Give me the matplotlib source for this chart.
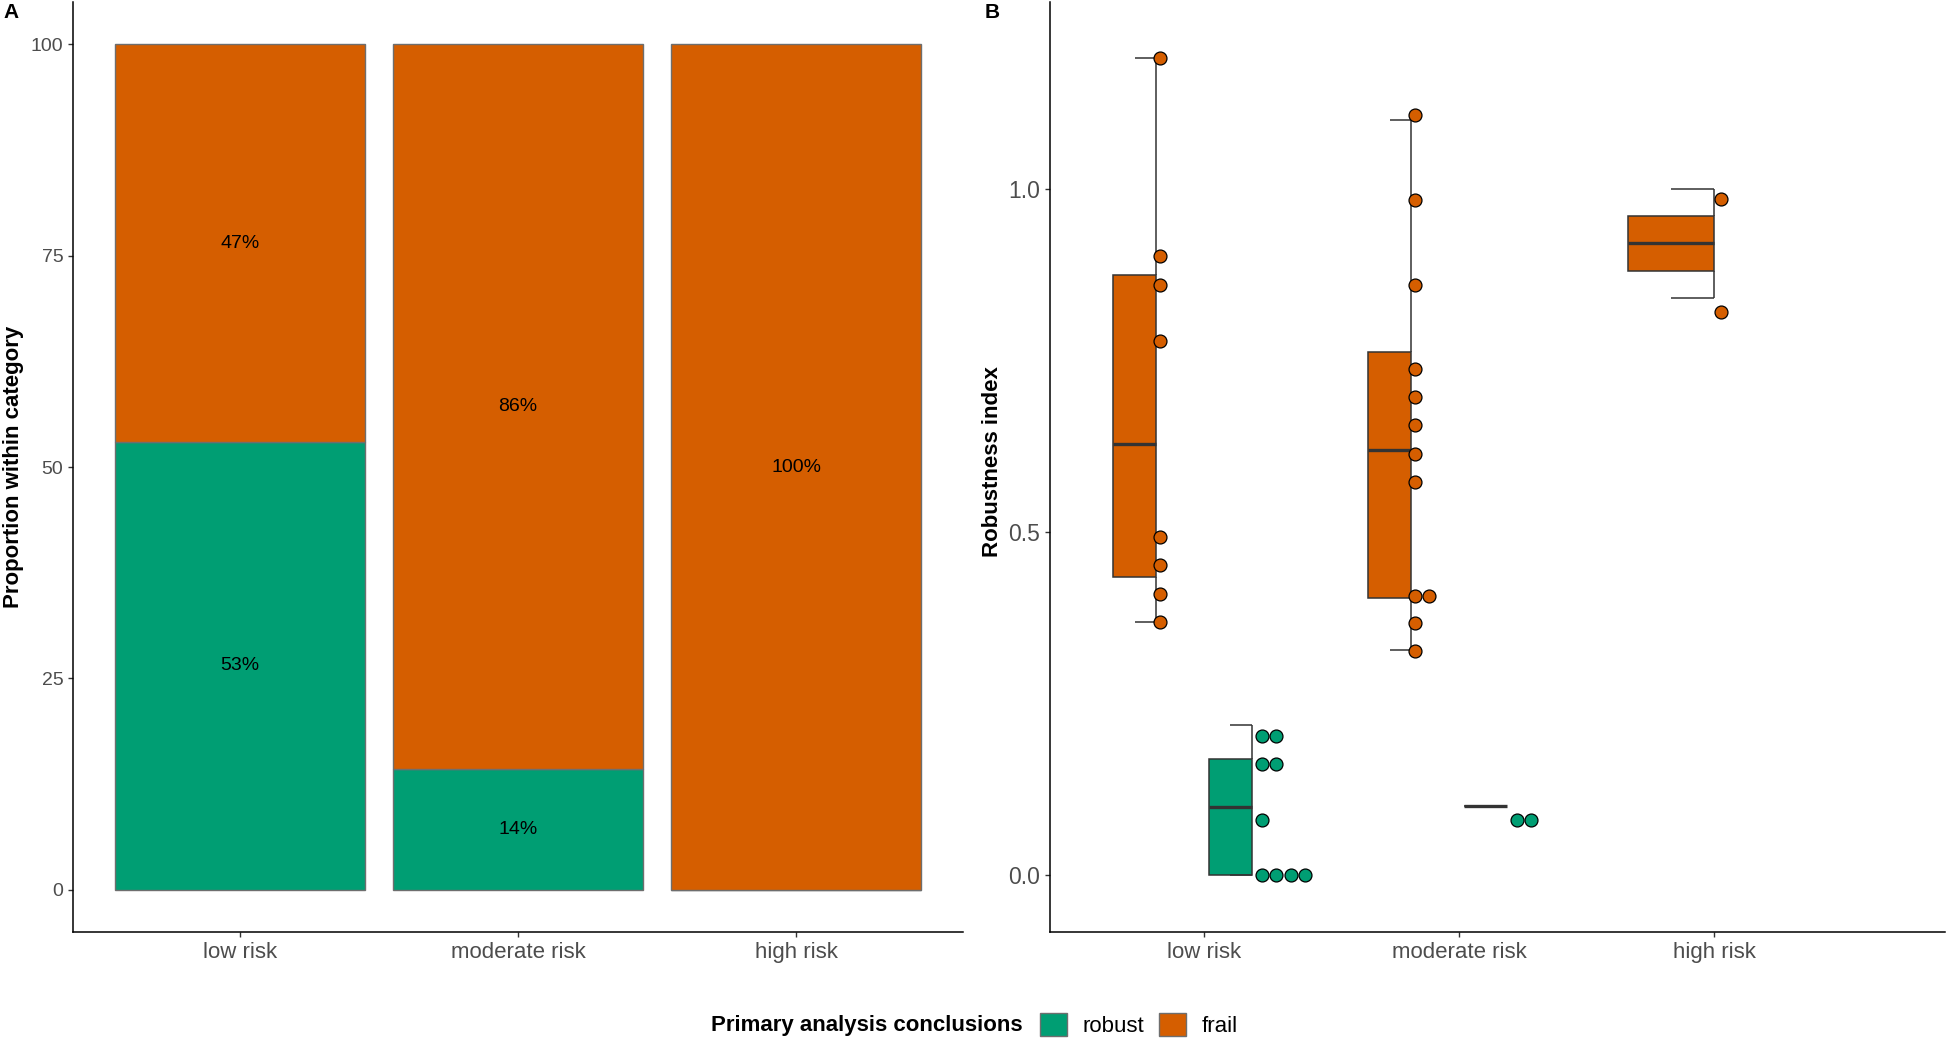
import matplotlib
matplotlib.use("Agg")
import matplotlib.pyplot as plt
from matplotlib.patches import Patch
import numpy as np

plt.rcParams['font.family'] = ['Liberation Sans', 'DejaVu Sans']

# ---------------- data ----------------
categories = ["low risk", "moderate risk", "high risk"]
conclusions = ["robust", "frail"]
robust_counts = [9, 2, 0]
frail_counts = [8, 12, 2]

# Panel B box statistics per category (nan = group absent)
frail_whislo = [0.369, 0.328, 0.840]
frail_q1 = [0.434, 0.404, 0.880]
frail_median = [0.628, 0.619, 0.920]
frail_q3 = [0.874, 0.762, 0.960]
frail_whishi = [1.190, 1.100, 1.000]

robust_whislo = [0.000, 0.100, np.nan]
robust_q1 = [0.000, 0.100, np.nan]
robust_median = [0.099, 0.100, np.nan]
robust_q3 = [0.169, 0.100, np.nan]
robust_whishi = [0.219, 0.100, np.nan]

# Panel B dot positions (binned values as drawn)
frail_dots_low = [0.369, 0.409, 0.451, 0.492, 0.778, 0.860, 0.902, 1.190]
frail_dots_moderate = [0.326, 0.367, 0.407, 0.407, 0.573, 0.614, 0.655,
                       0.696, 0.737, 0.860, 0.984, 1.107]
frail_dots_high = [0.820, 0.985]
robust_dots_low = [0.0, 0.0, 0.0, 0.0, 0.080, 0.162, 0.162, 0.203, 0.203]
robust_dots_moderate = [0.080, 0.080]
robust_dots_high = []

y_ticks_A = [0, 25, 50, 75, 100]
y_ticks_B = [0.0, 0.5, 1.0]

# ---------------- style ----------------
GREEN = "#009E73"
ORANGE = "#D55E00"
BOX_EC = "#333333"
BAR_EC = "#6E6E6E"
TICK_TXT = "#4D4D4D"

W, H = 1946, 1043
fig = plt.figure(figsize=(W / 100, H / 100), dpi=100)

bottom_px, top_px = 932, 2
axA = fig.add_axes([73.3 / W, 1 - bottom_px / H, (963 - 73.3) / W, (bottom_px - top_px) / H])
axB = fig.add_axes([1050 / W, 1 - bottom_px / H, (1945 - 1050) / W, (bottom_px - top_px) / H])

for ax in (axA, axB):
    for s in ("top", "right"):
        ax.spines[s].set_visible(False)
    for s in ("left", "bottom"):
        ax.spines[s].set_linewidth(1.1)
        ax.spines[s].set_color("black")
    ax.tick_params(axis="both", length=3.6, width=1.0, color="#333333",
                   labelcolor=TICK_TXT, pad=3.6)
    ax.tick_params(axis="x", labelsize=16)
axA.tick_params(axis="y", labelsize=14)
axB.tick_params(axis="y", labelsize=16.5)

# ---------------- panel A ----------------
x = np.arange(1, len(categories) + 1)
rc = np.array(robust_counts, dtype=float)
fc = np.array(frail_counts, dtype=float)
pct_r = 100 * rc / (rc + fc)
pct_f = 100 * fc / (rc + fc)

axA.bar(x, pct_r, width=0.9, color=GREEN, edgecolor=BAR_EC, linewidth=1.0)
axA.bar(x, pct_f, bottom=pct_r, width=0.9, color=ORANGE, edgecolor=BAR_EC, linewidth=1.0)
for xi, pr, pf in zip(x, pct_r, pct_f):
    if pr > 0:
        axA.text(xi, pr / 2, f"{round(pr)}%", ha="center", va="center", fontsize=14, color="black")
    if pf > 0:
        axA.text(xi, pr + pf / 2, f"{round(pf)}%", ha="center", va="center", fontsize=14, color="black")

axA.set_xlim(0.4, 3.6)
axA.set_ylim(-5, 105)
axA.set_xticks(x)
axA.set_xticklabels(categories)
axA.set_yticks(y_ticks_A)
axA.set_yticklabels([str(t) for t in y_ticks_A])

# ---------------- panel B ----------------
groups = {
    "frail": dict(color=ORANGE, whislo=frail_whislo, q1=frail_q1, med=frail_median,
                  q3=frail_q3, whishi=frail_whishi,
                  dots=[frail_dots_low, frail_dots_moderate, frail_dots_high],
                  counts=frail_counts),
    "robust": dict(color=GREEN, whislo=robust_whislo, q1=robust_q1, med=robust_median,
                   q3=robust_q3, whishi=robust_whishi,
                   dots=[robust_dots_low, robust_dots_moderate, robust_dots_high],
                   counts=robust_counts),
}
order = ["frail", "robust"]
box_dodge = 0.75
dot_dodge = 0.8
box_frac = 0.45
dot_d = 0.0557  # dot spacing in x units

for i, xc in enumerate(x):
    present = [g for g in order if groups[g]["counts"][i] > 0]
    n = len(present)
    for j, g in enumerate(present):
        G = groups[g]
        slot = box_dodge / n
        cx = xc - box_dodge / 2 + slot * (j + 0.5)
        bw = box_frac * slot
        q1, q3, med = G["q1"][i], G["q3"][i], G["med"][i]
        lo, hi = G["whislo"][i], G["whishi"][i]
        axB.bar(cx, q3 - q1, bottom=q1, width=-bw, align="edge", color=G["color"],
                edgecolor=BOX_EC, linewidth=1.1, zorder=2)
        axB.vlines(cx, lo, q1, color=BOX_EC, lw=1.1, zorder=2)
        axB.vlines(cx, q3, hi, color=BOX_EC, lw=1.1, zorder=2)
        axB.hlines([lo, hi], cx - bw / 2, cx, color=BOX_EC, lw=1.1, zorder=2)
        axB.hlines(med, cx - bw, cx, color=BOX_EC, lw=2.4, zorder=3)

        # dots
        dslot = dot_dodge / n
        dcx = xc - dot_dodge / 2 + dslot * (j + 0.5)
        vals = G["dots"][i]
        seen = {}
        xs, ys = [], []
        for v in vals:
            k = seen.get(v, 0)
            seen[v] = k + 1
            xs.append(dcx + dot_d / 2 + k * dot_d)
            ys.append(v)
        axB.plot(xs, ys, "o", ms=9.3, mfc=G["color"], mec="black", mew=0.9,
                 ls="none", zorder=4, clip_on=False)

axB.set_xlim(0.396, 3.906)
axB.set_ylim(-0.083, 1.2718)
axB.set_xticks(x)
axB.set_xticklabels(categories)
axB.set_yticks(y_ticks_B)
axB.set_yticklabels([f"{t:.1f}" for t in y_ticks_B])

# ---------------- titles / labels ----------------
fig.text(11 / W, 1 - 12.5 / H, "A", fontsize=15, fontweight="bold", ha="center", va="center")
fig.text(992 / W, 1 - 12.5 / H, "B", fontsize=15, fontweight="bold", ha="center", va="center")
fig.text(13.5 / W, 1 - 467 / H, "Proportion within category", rotation=90, fontsize=16,
         fontweight="bold", ha="center", va="center")
fig.text(993 / W, 1 - 462 / H, "Robustness index", rotation=90, fontsize=16,
         fontweight="bold", ha="center", va="center")

# ---------------- legend ----------------
fig.text(711 / W, 1 - 1025 / H, "Primary analysis conclusions", fontsize=16,
         fontweight="bold", ha="left", va="center")
handles = [Patch(facecolor=GREEN, edgecolor=BAR_EC, linewidth=1.0),
           Patch(facecolor=ORANGE, edgecolor=BAR_EC, linewidth=1.0)]
fig.legend(handles, conclusions, ncol=2, loc="center left",
           bbox_to_anchor=(1040 / W, 1 - 1025 / H), frameon=False, fontsize=16,
           handlelength=1.22, handleheight=1.22, handletextpad=0.68,
           columnspacing=0.68, borderpad=0, borderaxespad=0)
for t in fig.legends[0].get_texts():
    t.set_color("black")

fig.savefig("out.png", dpi=100)
